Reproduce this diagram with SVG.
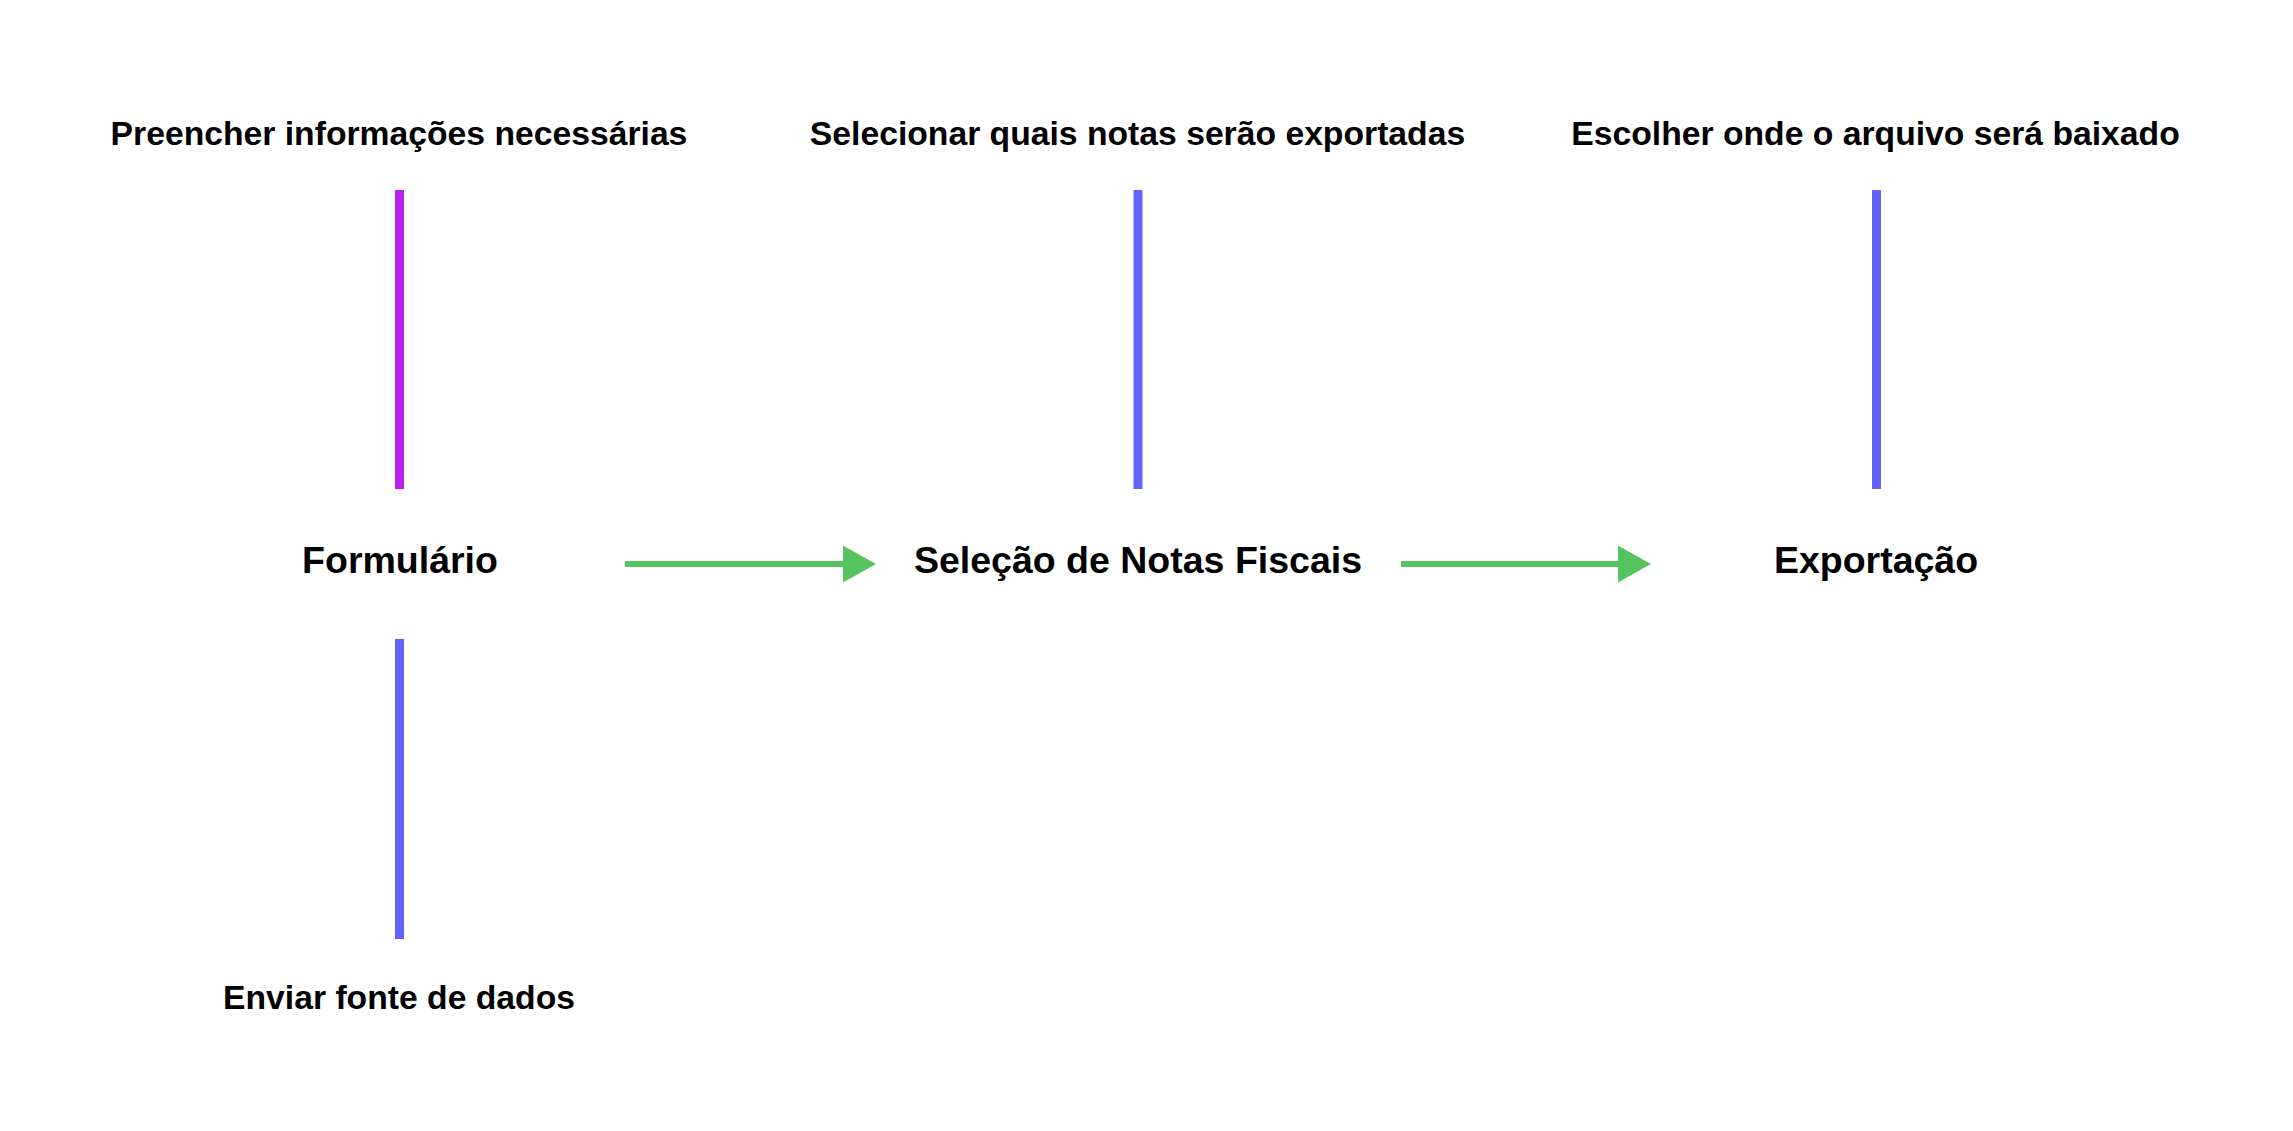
<svg xmlns="http://www.w3.org/2000/svg" width="2293" height="1131" viewBox="0 0 2293 1131">
  <defs>
    <style>
      text { font-family: "Liberation Sans", Arial, sans-serif; font-weight: bold; fill: #000; text-anchor: middle; }
      .sub { font-size: 33.7px; }
      .main { font-size: 37.5px; }
      .vline { stroke-width: 9; fill: none; }
      .purple { stroke: #bb20ee; }
      .blue { stroke: #6262ff; }
      .arrow { stroke: #55c45f; stroke-width: 6; fill: none; marker-end: url(#ah); }
    </style>
    <marker id="ah" markerUnits="userSpaceOnUse" markerWidth="34" markerHeight="38" refX="0" refY="18.5" orient="auto">
      <path d="M0,0 L33,18.5 L0,37 Z" fill="#55c45f"/>
    </marker>
  </defs>
  <rect width="2293" height="1131" fill="#ffffff"/>

  <g id="connectors">
    <path class="vline purple" d="M399.5,190 V489"/>
    <path class="vline blue" d="M399.5,639 V939"/>
    <path class="vline blue" d="M1138,190 V489"/>
    <path class="vline blue" d="M1876.5,190 V489"/>
    <path class="arrow" d="M625,564 H843"/>
    <path class="arrow" d="M1401,564 H1618"/>
  </g>

  <g id="node-preencher"><text class="sub" x="399" y="145">Preencher informações necessárias</text></g>
  <g id="node-formulario"><text class="main" x="400" y="573">Formulário</text></g>
  <g id="node-enviar"><text class="sub" x="399" y="1009">Enviar fonte de dados</text></g>
  <g id="node-selecionar"><text class="sub" x="1137.5" y="145">Selecionar quais notas serão exportadas</text></g>
  <g id="node-selecao"><text class="main" x="1138" y="573">Seleção de Notas Fiscais</text></g>
  <g id="node-escolher"><text class="sub" x="1875.5" y="145">Escolher onde o arquivo será baixado</text></g>
  <g id="node-exportacao"><text class="main" x="1876" y="573">Exportação</text></g>
</svg>
